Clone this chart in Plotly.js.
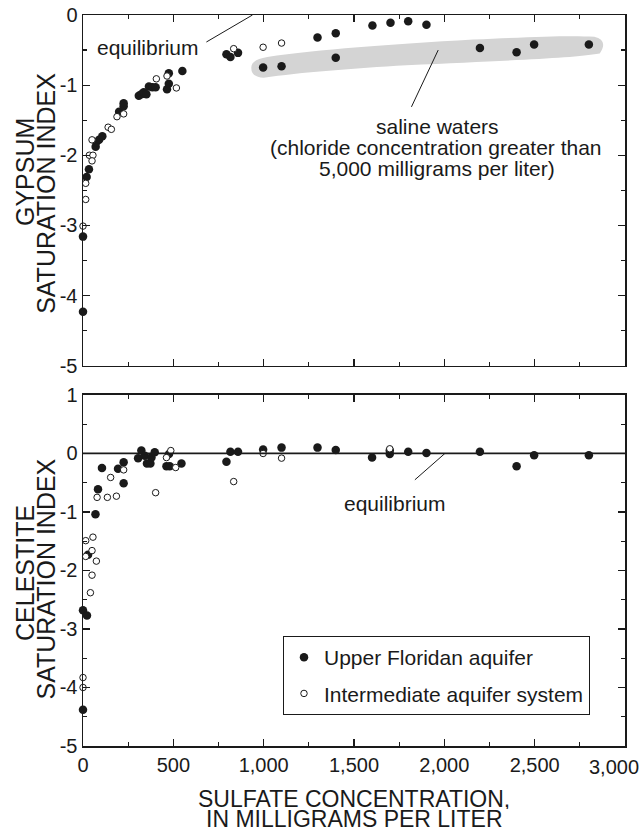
<!DOCTYPE html>
<html>
<head>
<meta charset="utf-8">
<script src="https://cdn.plot.ly/plotly-3.0.1.min.js"></script>
<style>html,body{margin:0;padding:0;background:#fff;}</style>
</head>
<body>
<div id="chart" style="width:643px;height:831px;"></div>
<script>
// ---- Data ----
// Gypsum saturation index vs sulfate (top panel)
const gypUpperX = [0, 0, 20, 33, 70, 74, 89, 107, 200, 225, 225, 309, 323, 336, 351, 365, 384, 402, 465, 475, 475, 550, 794, 816, 858, 997, 1099, 1298, 1399, 1399, 1602, 1702, 1800, 1901, 2197, 2400, 2497, 2800];
const gypUpperY = [-4.23, -3.16, -2.31, -2.20, -1.88, -1.81, -1.78, -1.73, -1.38, -1.30, -1.26, -1.15, -1.13, -1.10, -1.13, -1.02, -1.03, -1.03, -1.06, -0.98, -0.83, -0.80, -0.56, -0.60, -0.54, -0.75, -0.73, -0.32, -0.26, -0.61, -0.15, -0.11, -0.09, -0.14, -0.47, -0.53, -0.42, -0.42];
const gypInterX = [0, 15, 15, 35, 55, 50, 50, 139, 157, 188, 225, 406, 465, 517, 834, 997, 1099];
const gypInterY = [-3.01, -2.63, -2.40, -2.00, -2.00, -2.08, -1.78, -1.60, -1.63, -1.45, -1.41, -0.91, -0.87, -1.04, -0.48, -0.46, -0.40];

// Celestite saturation index vs sulfate (bottom panel)
const celUpperX = [0, 0, 22, 28, 69, 83, 105, 194, 225, 225, 305, 323, 342, 354, 373, 379, 397, 462, 480, 476, 545, 794, 816, 858, 997, 1099, 1298, 1399, 1600, 1698, 1698, 1800, 1901, 2197, 2400, 2497, 2800];
const celUpperY = [-4.38, -2.68, -2.77, -1.73, -1.04, -0.61, -0.25, -0.26, -0.15, -0.51, -0.08, 0.05, -0.04, -0.17, -0.17, -0.07, 0.02, -0.22, -0.22, -0.01, -0.17, -0.14, 0.03, 0.03, 0.07, 0.10, 0.10, 0.06, -0.07, -0.01, 0.05, 0.03, 0.01, 0.03, -0.22, -0.03, -0.03];
const celInterX = [0, 0, 15, 55, 15, 50, 74, 50, 41, 78, 135, 185, 153, 225, 402, 462, 486, 513, 834, 997, 1099, 1698];
const celInterY = [-3.83, -4.00, -1.49, -1.43, -1.76, -1.66, -1.84, -2.08, -2.38, -0.75, -0.75, -0.73, -0.41, -0.28, -0.67, -0.07, 0.05, -0.24, -0.48, 0.00, -0.08, 0.08];

// Series names and tick labels
const seriesNames = ['Upper Floridan aquifer', 'Intermediate aquifer system'];
const xTickVals = [0, 500, 1000, 1500, 2000, 2500, 3000];
const xTickText = ['0', '500', '1,000', '1,500', '2,000', '2,500', '3,000'];
const gypTickVals = [0, -1, -2, -3, -4, -5];
const gypTickText = ['0', '-1', '-2', '-3', '-4', '-5'];
const celTickVals = [1, 0, -1, -2, -3, -4, -5];
const celTickText = ['1', '0', '-1', '-2', '-3', '-4', '-5'];

// ---- Styling ----
const FONT = 'Liberation Sans, Arial, Helvetica, sans-serif';
const INK = '#1a1a1a';
const filledMarker = {symbol: 'circle', size: 8.5, color: INK, line: {width: 0}};
const openMarker = {symbol: 'circle', size: 6.5, color: '#ffffff', line: {width: 1, color: INK}};

const traces = [
  {x: gypUpperX, y: gypUpperY, xaxis: 'x', yaxis: 'y', type: 'scatter', mode: 'markers',
   marker: filledMarker, name: seriesNames[0], showlegend: false, cliponaxis: false},
  {x: gypInterX, y: gypInterY, xaxis: 'x', yaxis: 'y', type: 'scatter', mode: 'markers',
   marker: openMarker, name: seriesNames[1], showlegend: false, cliponaxis: false},
  {x: celUpperX, y: celUpperY, xaxis: 'x2', yaxis: 'y2', type: 'scatter', mode: 'markers',
   marker: filledMarker, name: seriesNames[0], legendgroup: 'a', showlegend: true, cliponaxis: false},
  {x: celInterX, y: celInterY, xaxis: 'x2', yaxis: 'y2', type: 'scatter', mode: 'markers',
   marker: openMarker, name: seriesNames[1], legendgroup: 'b', showlegend: true, cliponaxis: false}
];

const axisCommon = {
  showline: true, linewidth: 1.5, linecolor: INK, mirror: 'allticks',
  ticks: 'inside', ticklen: 7, tickwidth: 1.2, tickcolor: INK,
  showgrid: false, zeroline: false,
  tickfont: {family: FONT, size: 20, color: INK}
};

// the last x label sits flush with the right edge of the figure, as in the reference,
// so it is drawn as an annotation aligned to the edge instead of centred on its tick
const lastIdx = xTickVals.length - 1;
const xTickTextShown = xTickText.map((t, i) => (i === lastIdx ? '' : t));

const xCommon = Object.assign({}, axisCommon, {
  range: [0, 3000], tickmode: 'array', tickvals: xTickVals,
  minor: {tickmode: 'linear', tick0: 0, dtick: 250, ticks: 'inside', ticklen: 4, tickwidth: 1.2, tickcolor: INK, showgrid: false}
});
const yMinor = {tickmode: 'linear', tick0: 0, dtick: 0.5, ticks: 'inside', ticklen: 4, tickwidth: 1.2, tickcolor: INK, showgrid: false};

const ann = (text, x, y, xref, yref, size, extra) => Object.assign({
  text: text, x: x, y: y, xref: xref, yref: yref, showarrow: false,
  xanchor: 'center', yanchor: 'middle', font: {family: FONT, size: size, color: INK}
}, extra || {});

const layout = {
  width: 643, height: 831,
  margin: {l: 83, r: 18, t: 15, b: 85},
  paper_bgcolor: '#ffffff', plot_bgcolor: '#ffffff',
  font: {family: FONT, size: 20, color: INK},
  showlegend: true,
  xaxis: Object.assign({}, xCommon, {anchor: 'y', showticklabels: false}),
  yaxis: Object.assign({}, axisCommon, {domain: [0.5203, 1], anchor: 'x', range: [-5, 0],
    tickmode: 'array', tickvals: gypTickVals, ticktext: gypTickText, minor: yMinor}),
  xaxis2: Object.assign({}, xCommon, {anchor: 'y2', ticktext: xTickTextShown}),
  yaxis2: Object.assign({}, axisCommon, {domain: [0, 0.4802], anchor: 'x2', range: [-5, 1],
    tickmode: 'array', tickvals: celTickVals, ticktext: celTickText, minor: yMinor}),
  legend: {x: 0.369, y: 0.1505, xanchor: 'left', yanchor: 'top', bgcolor: '#ffffff',
    bordercolor: INK, borderwidth: 1, font: {family: FONT, size: 21, color: INK},
    tracegroupgap: 6, traceorder: 'grouped'},
  shapes: [
    // saline waters band
    {type: 'path', xref: 'x', yref: 'y', layer: 'below', fillcolor: '#d4d4d4', line: {width: 0},
     path: 'M 932,-0.764 Q 925,-0.64 1020,-0.60 C 1300,-0.49 1700,-0.42 2160,-0.35 C 2500,-0.31 2700,-0.29 2830,-0.31 Q 2910,-0.36 2860,-0.55 C 2700,-0.62 2400,-0.64 1790,-0.717 C 1500,-0.76 1200,-0.82 1000,-0.895 Q 930,-0.88 932,-0.764 Z'},
    // top equilibrium leader
    {type: 'line', xref: 'x', yref: 'y', x0: 683, y0: -0.385, x1: 938, y1: 0, line: {color: INK, width: 1}},
    // saline leader
    {type: 'line', xref: 'x', yref: 'y', x0: 1818, y0: -1.31, x1: 1966, y1: -0.50, line: {color: INK, width: 1}},
    // bottom equilibrium line
    {type: 'line', xref: 'x2', yref: 'y2', x0: 0, y0: 0, x1: 3000, y1: 0, line: {color: INK, width: 1.8}},
    // bottom equilibrium leader
    {type: 'line', xref: 'x2', yref: 'y2', x0: 1837, y0: -0.45, x1: 2003, y1: 0, line: {color: INK, width: 1}}
  ],
  annotations: [
    ann('equilibrium', 361, -0.46, 'x', 'y', 21),
    ann('saline waters', 1964, -1.585, 'x', 'y', 21),
    ann('(chloride concentration greater than', 1955, -1.884, 'x', 'y', 21),
    ann('5,000 milligrams per liter)', 1960, -2.183, 'x', 'y', 21),
    ann('equilibrium', 1726, -0.857, 'x2', 'y2', 21),
    ann(xTickText[lastIdx], 1.0295, -0.0285, 'paper', 'paper', 20, {xanchor: 'right'}),
    ann('GYPSUM', -0.1070, 0.7852, 'paper', 'paper', 25, {textangle: -90}),
    ann('SATURATION INDEX', -0.0685, 0.7565, 'paper', 'paper', 25, {textangle: -90}),
    ann('CELESTITE', -0.1070, 0.2367, 'paper', 'paper', 25, {textangle: -90}),
    ann('SATURATION INDEX', -0.0685, 0.2290, 'paper', 'paper', 25, {textangle: -90}),
    ann('SULFATE CONCENTRATION,', 0.5, -0.0725, 'paper', 'paper', 23, {height: 20, valign: 'middle'}),
    ann('IN MILLIGRAMS PER LITER', 0.5, -0.0995, 'paper', 'paper', 23, {height: 20, valign: 'middle'})
  ]
};

Plotly.newPlot('chart', traces, layout, {displayModeBar: false, staticPlot: true});
</script>
</body>
</html>
